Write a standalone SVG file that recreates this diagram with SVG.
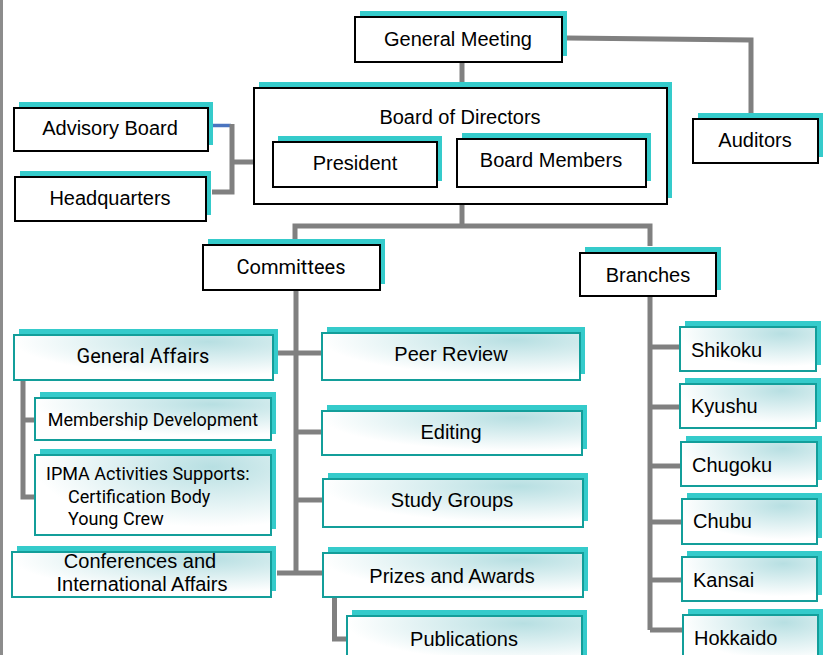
<svg xmlns="http://www.w3.org/2000/svg" width="828" height="655" viewBox="0 0 828 655">
<defs>
<radialGradient id="g" cx="0.75" cy="0.15" r="0.75">
<stop offset="0" stop-color="#b7dfe2"/>
<stop offset="1" stop-color="#ffffff"/>
</radialGradient>
<style>
.sh{fill:#35cbcb}
.nb{fill:#fff;stroke:#000;stroke-width:2}
.nt{fill:url(#g);stroke:#139e9a;stroke-width:2}
.c{stroke:#808080;stroke-width:5;fill:none}
.t{font-family:"Liberation Sans",Arial,sans-serif;font-size:20px;fill:#000;text-anchor:middle}
.r{font-family:Roboto,"Noto Sans",sans-serif;font-size:20px;fill:#000;text-anchor:middle}
.r18{font-size:18px}
text.tl{text-anchor:start}
</style>
</defs>
<rect width="828" height="655" fill="#fff"/>
<rect x="0" y="0" width="3" height="655" fill="#8c8c8c"/>

<g id="connectors">
<path class="c" d="M462,62 V82"/>
<path class="c" d="M567,38 L751,40 V113"/>
<path class="c" d="M462,204 V226"/>
<path class="c" d="M295,239 V226 H650 V246"/>
<path d="M208,125.5 H231" stroke="#4a74c0" stroke-width="3.5" fill="none"/>
<path class="c" d="M232,124 V192 H212"/>
<path class="c" d="M232,162 H272"/>
<path class="c" d="M296,290 V575"/>
<path class="c" d="M278,353 H322"/>
<path class="c" d="M296,432 H322"/>
<path class="c" d="M296,500 H323"/>
<path class="c" d="M277,573 H323"/>
<path class="c" d="M23,380 V497 H35"/>
<path class="c" d="M23,420 H35"/>
<path class="c" d="M334.5,597 V639 H347"/>
<path class="c" d="M650,296 V630"/>
<path class="c" d="M650,347 H680"/>
<path class="c" d="M650,407 H680"/>
<path class="c" d="M650,466 H681"/>
<path class="c" d="M650,522 H682"/>
<path class="c" d="M650,580 H682"/>
<path class="c" d="M650,630 H683"/>
</g>

<g id="general-meeting">
<rect class="sh" x="360" y="11" width="207" height="45"/>
<rect class="nb" x="355" y="17" width="207" height="45"/>
<text class="t" x="458" y="46">General Meeting</text>
</g>
<g id="board-of-directors">
<rect class="sh" x="259" y="82" width="413" height="116"/>
<rect class="nb" x="254" y="88" width="413" height="116"/>
<text class="t" x="460" y="124">Board of Directors</text>
</g>
<g id="president">
<rect class="sh" x="278" y="136" width="164" height="45"/>
<rect class="nb" x="273" y="142" width="164" height="45"/>
<text class="t" x="355" y="170">President</text>
</g>
<g id="board-members">
<rect class="sh" x="462" y="133" width="189" height="48"/>
<rect class="nb" x="457" y="139" width="189" height="48"/>
<text class="t" x="551" y="167">Board Members</text>
</g>
<g id="advisory-board">
<rect class="sh" x="19" y="102" width="194" height="43"/>
<rect class="nb" x="14" y="108" width="194" height="43"/>
<text class="t" x="110" y="135">Advisory Board</text>
</g>
<g id="headquarters">
<rect class="sh" x="20" y="171" width="191" height="44"/>
<rect class="nb" x="15" y="177" width="191" height="44"/>
<text class="t" x="110" y="205">Headquarters</text>
</g>
<g id="auditors">
<rect class="sh" x="698" y="113" width="125" height="44"/>
<rect class="nb" x="693" y="119" width="125" height="44"/>
<text class="t" x="755" y="147">Auditors</text>
</g>
<g id="committees">
<rect class="sh" x="208" y="239" width="177" height="45"/>
<rect class="nb" x="203" y="245" width="177" height="45"/>
<text class="r" x="291" y="274">Committees</text>
</g>
<g id="branches">
<rect class="sh" x="585" y="247" width="136" height="43"/>
<rect class="nb" x="580" y="253" width="136" height="43"/>
<text class="t" x="648" y="282">Branches</text>
</g>

<g id="general-affairs">
<rect class="sh" x="19" y="329" width="259" height="45"/>
<rect class="nt" x="14" y="335" width="259" height="45"/>
<text class="r" x="143" y="363">General Affairs</text>
</g>
<g id="membership-development">
<rect class="sh" x="40" y="392" width="236" height="42"/>
<rect class="nt" x="35" y="398" width="236" height="42"/>
<text class="r r18" x="153" y="426">Membership Development</text>
</g>
<g id="ipma">
<rect class="sh" x="40" y="449" width="236" height="80"/>
<rect class="nt" x="35" y="455" width="236" height="80"/>
<text class="r r18 tl" x="46" y="480">IPMA Activities Supports:</text>
<text class="r r18 tl" x="68" y="503">Certification Body</text>
<text class="r r18 tl" x="68" y="525">Young Crew</text>
</g>
<g id="conferences">
<rect class="sh" x="17" y="546" width="259" height="45"/>
<rect class="nt" x="12" y="552" width="259" height="45"/>
<text class="t" x="140" y="568">Conferences and</text>
<text class="t" x="142" y="591">International Affairs</text>
</g>
<g id="peer-review">
<rect class="sh" x="327" y="327" width="258" height="47"/>
<rect class="nt" x="322" y="333" width="258" height="47"/>
<text class="t" x="451" y="361">Peer Review</text>
</g>
<g id="editing">
<rect class="sh" x="327" y="405" width="260" height="44"/>
<rect class="nt" x="322" y="411" width="260" height="44"/>
<text class="t" x="451" y="439">Editing</text>
</g>
<g id="study-groups">
<rect class="sh" x="328" y="473" width="260" height="48"/>
<rect class="nt" x="323" y="479" width="260" height="48"/>
<text class="t" x="452" y="507">Study Groups</text>
</g>
<g id="prizes-and-awards">
<rect class="sh" x="328" y="547" width="260" height="44"/>
<rect class="nt" x="323" y="553" width="260" height="44"/>
<text class="t" x="452" y="583">Prizes and Awards</text>
</g>
<g id="publications">
<rect class="sh" x="352" y="610" width="235" height="50"/>
<rect class="nt" x="347" y="616" width="235" height="50"/>
<text class="t" x="464" y="646" font-size="18">Publications</text>
</g>

<g id="shikoku">
<rect class="sh" x="685" y="321" width="136" height="44"/>
<rect class="nt" x="680" y="327" width="136" height="44"/>
<text class="t tl" x="691" y="357">Shikoku</text>
</g>
<g id="kyushu">
<rect class="sh" x="685" y="378" width="136" height="44"/>
<rect class="nt" x="680" y="384" width="136" height="44"/>
<text class="t tl" x="691" y="413">Kyushu</text>
</g>
<g id="chugoku">
<rect class="sh" x="686" y="436" width="136" height="44"/>
<rect class="nt" x="681" y="442" width="136" height="44"/>
<text class="t tl" x="692" y="472">Chugoku</text>
</g>
<g id="chubu">
<rect class="sh" x="687" y="493" width="135" height="45"/>
<rect class="nt" x="682" y="499" width="135" height="45"/>
<text class="t tl" x="693" y="528">Chubu</text>
</g>
<g id="kansai">
<rect class="sh" x="687" y="551" width="135" height="44"/>
<rect class="nt" x="682" y="557" width="135" height="44"/>
<text class="t tl" x="693" y="587">Kansai</text>
</g>
<g id="hokkaido">
<rect class="sh" x="688" y="609" width="135" height="50"/>
<rect class="nt" x="683" y="615" width="135" height="50"/>
<text class="t tl" x="694" y="645">Hokkaido</text>
</g>
</svg>
